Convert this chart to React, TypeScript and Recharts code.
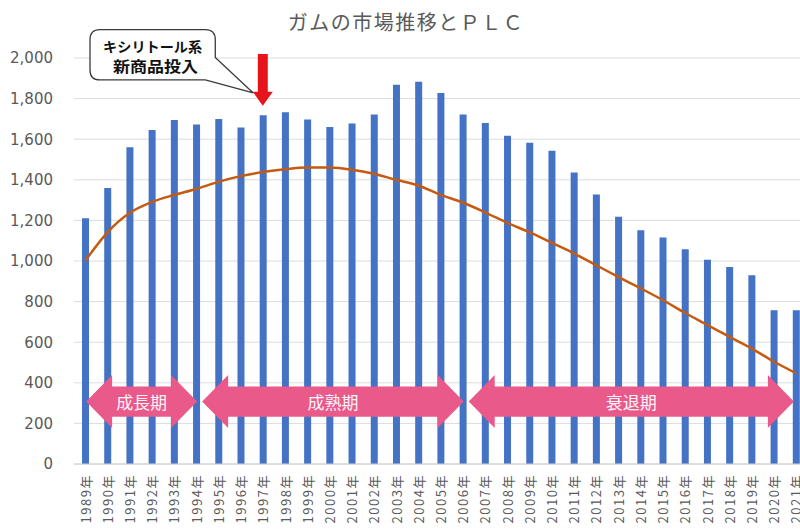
import {
  ComposedChart,
  Bar,
  Line,
  XAxis,
  YAxis,
  CartesianGrid,
  ReferenceArea,
} from "recharts";

const years = [
  "1989年", "1990年", "1991年", "1992年", "1993年", "1994年", "1995年",
  "1996年", "1997年", "1998年", "1999年", "2000年", "2001年", "2002年",
  "2003年", "2004年", "2005年", "2006年", "2007年", "2008年", "2009年",
  "2010年", "2011年", "2012年", "2013年", "2014年", "2015年", "2016年",
  "2017年", "2018年", "2019年", "2020年", "2021年",
];

// 市場規模（億円）
const sales = [
  1210, 1360, 1560, 1645, 1695, 1672, 1700, 1658, 1718, 1733, 1697, 1660,
  1677, 1722, 1868, 1883, 1828, 1722, 1680, 1617, 1582, 1543, 1436, 1328,
  1218, 1152, 1116, 1058, 1006, 970, 930, 758, 758,
];

// PLC 近似曲線
const trend = [
  1000, 1140, 1236, 1290, 1325, 1355, 1390, 1418, 1438, 1452, 1460, 1460,
  1450, 1430, 1400, 1372, 1326, 1288, 1240, 1188, 1142, 1090, 1038, 980,
  922, 866, 808, 745, 686, 627, 570, 505, 448,
];

const yTicks = [0, 200, 400, 600, 800, 1000, 1200, 1400, 1600, 1800, 2000];

const phases = [
  { label: "成長期", from: "1989年", to: "1994年" },
  { label: "成熟期", from: "1994年", to: "2006年" },
  { label: "衰退期", from: "2006年", to: "2021年" },
];

const calloutLines = ["キシリトール系", "新商品投入"];
const launchYear = "1997年";

const data = years.map((year, i) => ({ year, sales: sales[i], trend: trend[i] }));

const GRAY = "#595959";
const PINK = "#E9598A";

function XTick({ x, y, payload }: any) {
  return (
    <text
      x={x}
      y={y + 2}
      transform={`rotate(-90 ${x} ${y + 2})`}
      textAnchor="end"
      dominantBaseline="central"
      fontSize={13}
      letterSpacing={1.5}
      fill={GRAY}
      fontFamily="'Noto Sans CJK JP', sans-serif"
    >
      {payload.value}
    </text>
  );
}

function phaseShape(label: string, n: number, first: boolean, last: boolean) {
  return (props: any) => {
    const { x, y, width, height } = props;
    const bw = width / n;
    const l = x + bw / 2 + (first ? 1 : 6);
    const r = x + width - bw / 2 + (last ? -2 : 1);
    const cy = y + height / 2;
    const hh = height / 2;
    const bh = height * 0.285;
    const hl = 26;
    const d = [
      `M${l},${cy}`,
      `L${l + hl},${cy - hh}`,
      `L${l + hl},${cy - bh}`,
      `L${r - hl},${cy - bh}`,
      `L${r - hl},${cy - hh}`,
      `L${r},${cy}`,
      `L${r - hl},${cy + hh}`,
      `L${r - hl},${cy + bh}`,
      `L${l + hl},${cy + bh}`,
      `L${l + hl},${cy + hh}`,
      "Z",
    ].join(" ");
    return (
      <g>
        <path d={d} fill={PINK} />
        <text
          x={(l + r) / 2}
          y={cy}
          textAnchor="middle"
          dominantBaseline="central"
          fontSize={17}
          fill="#fff4f8"
          fontFamily="'Noto Sans CJK JP', sans-serif"
        >
          {label}
        </text>
      </g>
    );
  };
}

function launchArrow(props: any) {
  const { x, y, width, height } = props;
  const cx = x + width / 2;
  const bottom = y + height;
  const head = 14;
  const d = [
    `M${cx - 5},${y}`,
    `L${cx + 5},${y}`,
    `L${cx + 5},${bottom - head}`,
    `L${cx + 10},${bottom - head}`,
    `L${cx},${bottom}`,
    `L${cx - 10},${bottom - head}`,
    `L${cx - 5},${bottom - head}`,
    "Z",
  ].join(" ");
  return <path d={d} fill="#E8141C" />;
}

function callout(props: any) {
  const { x, y, width, height } = props;
  const bx = x + 16;
  const bx2 = x + width + 8;
  const by = y;
  const by2 = y + height;
  const rr = 10;
  const tipX = bx2 + 38;
  const tipY = by2 + 13;
  const d = [
    `M${bx + rr},${by}`,
    `H${bx2 - rr}`,
    `Q${bx2},${by} ${bx2},${by + rr}`,
    `V${by + 28}`,
    `L${tipX},${tipY}`,
    `L${bx2 - 10},${by2}`,
    `H${bx + rr}`,
    `Q${bx},${by2} ${bx},${by2 - rr}`,
    `V${by + rr}`,
    `Q${bx},${by} ${bx + rr},${by}`,
    "Z",
  ].join(" ");
  const mid = (bx + bx2) / 2;
  return (
    <g>
      <path d={d} fill="#fff" stroke="#3a3a3a" strokeWidth={1.3} />
      <text
        x={mid}
        y={by + 16}
        textAnchor="middle"
        dominantBaseline="central"
        fontSize={14}
        fontWeight="bold"
        textLength={99}
        lengthAdjust="spacingAndGlyphs"
        fill="#111"
        fontFamily="'Noto Sans CJK JP', sans-serif"
      >
        {calloutLines[0]}
      </text>
      <text
        x={mid + 3}
        y={by + 36}
        textAnchor="middle"
        dominantBaseline="central"
        fontSize={15}
        fontWeight="bold"
        textLength={85}
        lengthAdjust="spacingAndGlyphs"
        fill="#111"
        fontFamily="'Noto Sans CJK JP', sans-serif"
      >
        {calloutLines[1]}
      </text>
    </g>
  );
}

export default function App() {
  return (
    <div
      style={{
        position: "absolute",
        left: 0,
        top: 0,
        width: 800,
        height: 529,
        overflow: "hidden",
        background: "#fff",
      }}
    >
      <div
        style={{
          position: "absolute",
          top: 8,
          left: 0,
          width: 812,
          textAlign: "center",
          fontSize: 20,
          letterSpacing: 1.5,
          color: GRAY,
          fontFamily: "'Noto Sans CJK JP', sans-serif",
          lineHeight: "28px",
        }}
      >
        ガムの市場推移とＰＬＣ
      </div>
      <ComposedChart
        width={830}
        height={529}
        data={data}
        margin={{ top: 58, right: 23, left: 0, bottom: 0 }}
      >
        <CartesianGrid vertical={false} stroke="#dcdcdc" />
        <XAxis
          dataKey="year"
          height={65}
          interval={0}
          tickLine={false}
          axisLine={{ stroke: "#d0d0d0" }}
          tick={<XTick />}
        />
        <YAxis
          width={74}
          domain={[0, 2000]}
          ticks={yTicks}
          interval={0}
          tickLine={false}
          axisLine={false}
          tickMargin={15}
          tickFormatter={(v) => v.toLocaleString("en-US")}
          tick={{ fill: GRAY, fontSize: 15, fontFamily: "'DejaVu Sans', sans-serif" }}
        />
        <Bar dataKey="sales" fill="#4472C4" barSize={7} isAnimationActive={false} />
        <Line
          type="monotone"
          dataKey="trend"
          stroke="#C55A11"
          strokeWidth={2.5}
          dot={false}
          activeDot={false}
          isAnimationActive={false}
        />
        {phases.map((p, i) => (
          <ReferenceArea
            key={p.label}
            x1={p.from}
            x2={p.to}
            y1={177}
            y2={438}
            ifOverflow="visible"
            zIndex={1000}
            shape={phaseShape(
              p.label,
              years.indexOf(p.to) - years.indexOf(p.from) + 1,
              i === 0,
              i === phases.length - 1
            )}
          />
        ))}
        <ReferenceArea
          x1={launchYear}
          x2={launchYear}
          y1={1765}
          y2={2020}
          ifOverflow="visible"
          zIndex={1000}
          shape={launchArrow}
        />
        <ReferenceArea
          x1="1989年"
          x2="1994年"
          y1={1892}
          y2={2140}
          ifOverflow="visible"
          zIndex={1000}
          shape={callout}
        />
      </ComposedChart>
    </div>
  );
}
